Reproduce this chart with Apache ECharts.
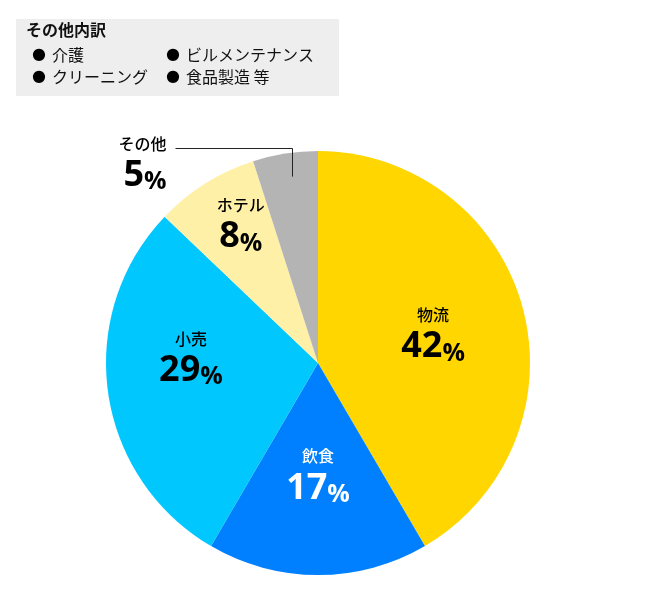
<!DOCTYPE html>
<html>
<head>
<meta charset="utf-8">
<script src="https://cdn.jsdelivr.net/npm/echarts@6/dist/echarts.min.js"></script>
<style>
  html, body { margin: 0; padding: 0; background: #fff; }
  #chart { width: 645px; height: 597px; }
</style>
</head>
<body>
<div id="chart"></div>
<script>
const CATEGORIES = ["物流", "飲食", "小売", "ホテル", "その他"];
const VALUES = [42, 17, 29, 8, 5];
const NOTE_TITLE = "その他内訳";
const NOTE_ROWS = [
  ["介護", "ビルメンテナンス"],
  ["クリーニング", "食品製造 等"]
];

const COLORS = ["#FFD600", "#0080FF", "#00C8FF", "#FFF0A8", "#B4B4B4"];
const LABEL_COLORS = ["#000", "#fff", "#000", "#000", "#000"];
// where each inside label sits: fraction of radius, and a small turn off the mid angle (deg)
const LABEL_RADIUS = [0.56, 0.53, 0.6, 0.75];
const LABEL_TURN = [1, 0, 10.5, 3];
const OUTSIDE = CATEGORIES.length - 1;

const FONT = "'Noto Sans CJK JP', 'Noto Sans', sans-serif";
const NUM_FONT = "'Open Sans', " + FONT;
const CX = 318;
const CY = 363;
const R = 212;

const total = VALUES.reduce((a, b) => a + b, 0);

function midAngle(index) {
  let before = 0;
  for (let i = 0; i < index; i++) before += VALUES[i];
  return ((before + VALUES[index] / 2) / total) * Math.PI * 2;
}

function polar(angle, radius) {
  return [CX + radius * Math.sin(angle), CY - radius * Math.cos(angle)];
}

const noteText = [`{h|${NOTE_TITLE}}`]
  .concat(NOTE_ROWS.map(([a, b]) => `{s| }{b|●}{c|${a}}{b|●}{d|${b}}`))
  .join("\n");

const item = { fontFamily: FONT, fontSize: 16, fontWeight: "normal", lineHeight: 22, color: "#111" };

const labelBase = {
  fontFamily: FONT,
  formatter: p => `{n|${p.name}}\n{v|${p.value}}{p|%}`,
  rich: {
    n: { fontFamily: FONT, fontSize: 16, fontWeight: 500, lineHeight: 26, align: "center" },
    v: { fontFamily: NUM_FONT, fontSize: 36, fontWeight: "bold", lineHeight: 38 },
    p: { fontFamily: NUM_FONT, fontSize: 25, fontWeight: "bold", lineHeight: 38, verticalAlign: "bottom" }
  }
};

const chart = echarts.init(document.getElementById("chart"));

chart.setOption({
  animation: false,
  backgroundColor: "#fff",
  title: {
    left: 16,
    top: 13,
    text: noteText,
    backgroundColor: "#EEEEEE",
    padding: [3, 25, 11, 10],
    textStyle: {
      fontFamily: FONT,
      color: "#111",
      rich: {
        h: { fontFamily: FONT, fontSize: 16, fontWeight: "bold", lineHeight: 28, color: "#111" },
        s: Object.assign({}, item, { width: 6 }),
        b: { width: 20, fontSize: 16, fontWeight: "normal", lineHeight: 22, color: "#000", fontFamily: "DejaVu Sans" },
        c: Object.assign({}, item, { width: 114 }),
        d: item
      }
    }
  },
  series: [
    {
      // the pie with labels inside the slices
      type: "pie",
      center: [CX, CY],
      radius: R,
      startAngle: 90,
      clockwise: true,
      silent: true,
      data: CATEGORIES.map((name, i) => ({
        name,
        value: VALUES[i],
        itemStyle: { color: COLORS[i] },
        label: { show: i !== OUTSIDE, color: LABEL_COLORS[i] }
      })),
      itemStyle: { borderWidth: 0 },
      label: Object.assign({ position: "inside" }, labelBase),
      labelLine: { show: false },
      labelLayout(params) {
        const i = params.dataIndex;
        if (i === OUTSIDE) return {};
        const [x, y] = polar(midAngle(i) + LABEL_TURN[i] * Math.PI / 180, R * LABEL_RADIUS[i]);
        return { x, y, align: "center", verticalAlign: "middle" };
      }
    },
    {
      // clear copy on top that only carries the outside label and its leader line
      type: "pie",
      center: [CX, CY],
      radius: R * 0.89,
      startAngle: 90,
      clockwise: true,
      silent: true,
      z: 5,
      data: CATEGORIES.map((name, i) => ({
        name,
        value: VALUES[i],
        itemStyle: { color: "rgba(0,0,0,0)" },
        label: { show: i === OUTSIDE, color: LABEL_COLORS[i] },
        labelLine: { show: i === OUTSIDE }
      })),
      itemStyle: { borderWidth: 0 },
      label: Object.assign({ position: "outside" }, labelBase),
      labelLine: { lineStyle: { color: "#222", width: 1 } },
      labelLayout(params) {
        const i = params.dataIndex;
        if (i !== OUTSIDE) return {};
        const start = polar(midAngle(i), R * 0.89);
        const sx = Math.round(start[0] + 3) + 0.5;
        const elbowY = CY - R - 2.5;
        const endX = sx - 117;
        return {
          x: endX - 9,
          y: elbowY + 14,
          align: "right",
          verticalAlign: "middle",
          labelLinePoints: [[sx, start[1]], [sx, elbowY], [endX, elbowY]]
        };
      }
    }
  ]
});
</script>
</body>
</html>
